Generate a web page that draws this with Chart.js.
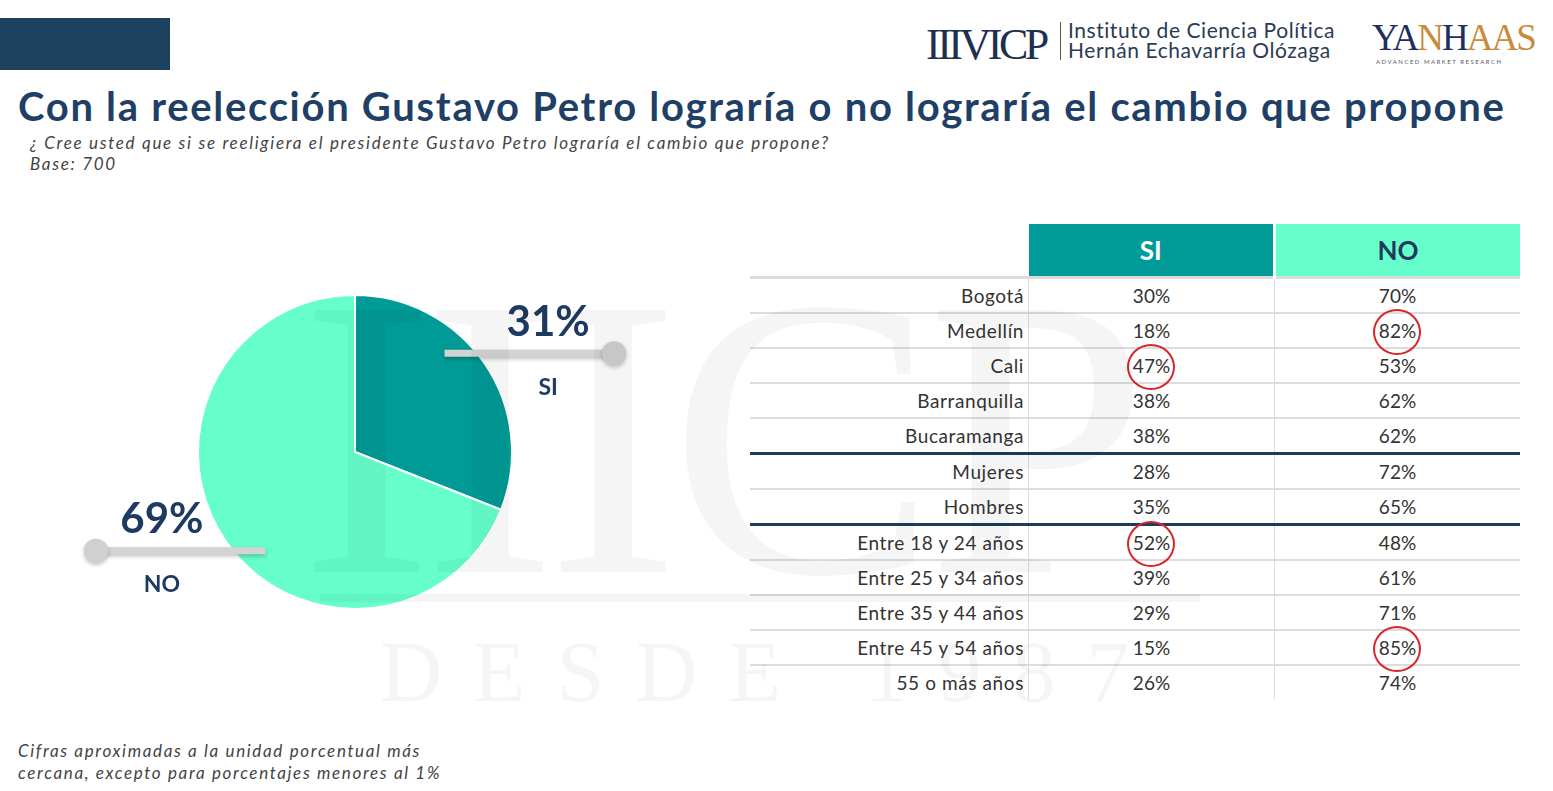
<!DOCTYPE html>
<html>
<head>
<meta charset="utf-8">
<script src="https://cdn.jsdelivr.net/npm/chart.js@4"></script>
<style>
  body { margin: 0; width: 1553px; height: 791px; background: #fff; position: relative; overflow: hidden; font-family: Lato, sans-serif; }
  .abs { position: absolute; }
  #bar { left: 0; top: 18px; width: 170px; height: 52px; background: #1D4260; }
  #title { left: 18px; top: 82px; font-size: 40px; font-weight: 700; color: #1F3F66; white-space: nowrap; letter-spacing: 1.7px; }
  #sub { left: 30px; top: 132px; font-size: 17px; font-style: italic; color: #444; line-height: 21px; letter-spacing: 1.7px; white-space: nowrap; }
  #foot { left: 18px; top: 740px; font-size: 17px; font-style: italic; color: #444; line-height: 22px; letter-spacing: 1.65px; white-space: nowrap; }
  #icp { left: 926px; top: 19px; font-family: "Liberation Serif", serif; font-size: 44px; color: #1E2F4F; letter-spacing: -3.5px; }
  #icpsep { left: 1060px; top: 22px; width: 1px; height: 38px; background: #555; }
  #icptxt { left: 1068px; top: 20px; font-size: 21px; line-height: 20px; color: #2B3A55; letter-spacing: 0.55px; white-space: nowrap; }
  #yan { left: 1372px; top: 16px; font-family: "Liberation Serif", serif; font-size: 37px; color: #1E2F5F; letter-spacing: -2px; }
  #yan span { color: #C98A3A; }
  #yansub { left: 1376px; top: 58px; font-size: 6px; letter-spacing: 1.5px; color: #556; white-space: nowrap; }
  #wm1 { left: 300px; top: 238px; font-family: "Liberation Serif", serif; font-size: 400px; line-height: 400px; color: rgba(0,0,0,0.04); letter-spacing: -10px; pointer-events: none; z-index: 5; }
  #wm2 { left: 380px; top: 622px; font-family: "Liberation Serif", serif; font-size: 86px; color: rgba(0,0,0,0.04); letter-spacing: 31px; pointer-events: none; z-index: 5; }
  #wmbar { left: 320px; top: 594px; width: 880px; height: 8px; background: rgba(0,0,0,0.04); z-index: 5; }
  #pieWrap { left: 0; top: 177px; width: 710px; height: 550px; }
  table { position: absolute; left: 750px; top: 224px; width: 770px; border-collapse: collapse; font-size: 19px; color: #333; }
  th { height: 52px; font-size: 26px; font-weight: 700; padding: 0; }
  th.si { background: #009B98; color: #fff; border-right: 3px solid #fff; }
  th.no { background: #66FFCC; color: #1F3A5F; }
  td { height: 33px; padding: 0; text-align: center; border-top: 2px solid #DCDCDC; }
  td.lab { text-align: right; padding-right: 4px; width: 274px; letter-spacing: 0.6px; }
  td.v { border-left: 1px solid #DDD; width: 245px; }
  tr.first td { border-top: 3px solid #DCDCDC; }
  tr.grp td { border-top: 3px solid #1F3A5F; }
  .mark { position: relative; display: inline-block; }
  .mark::after { content: ""; position: absolute; left: -6px; top: -10px; width: 44px; height: 42px; border: 2.5px solid #D9252A; border-radius: 50%; }
</style>
</head>
<body>
<div id="bar" class="abs"></div>
<div id="icp" class="abs">IIIVICP</div>
<div id="icpsep" class="abs"></div>
<div id="icptxt" class="abs">Instituto de Ciencia Política<br>Hernán Echavarría Olózaga</div>
<div id="yan" class="abs">YA<span>N</span>H<span>AAS</span></div>
<div id="yansub" class="abs">ADVANCED MARKET RESEARCH</div>
<div id="title" class="abs">Con la reelección Gustavo Petro lograría o no lograría el cambio que propone</div>
<div id="sub" class="abs">¿ Cree usted que si se reeligiera el presidente Gustavo Petro lograría el cambio que propone?<br>Base: 700</div>
<div id="pieWrap" class="abs"><canvas id="pie" width="710" height="550"></canvas></div>
<table id="tbl"></table>
<div id="wm1" class="abs">IIICP</div>
<div id="wmbar" class="abs"></div>
<div id="wm2" class="abs">DESDE 1987</div>
<div id="foot" class="abs">Cifras aproximadas a la unidad porcentual más<br>cercana, excepto para porcentajes menores al 1%</div>
<script>
// total
const pieLabels = ['SI', 'NO'];
const pieValues = [31, 69];
const pieColors = ['#009B96', '#66FFCC'];

// breakdown table
const rowLabels = ['Bogotá', 'Medellín', 'Cali', 'Barranquilla', 'Bucaramanga', 'Mujeres', 'Hombres',
  'Entre 18 y 24 años', 'Entre 25 y 34 años', 'Entre 35 y 44 años', 'Entre 45 y 54 años', '55 o más años'];
const siValues = [30, 18, 47, 38, 38, 28, 35, 52, 39, 29, 15, 26];
const noValues = [70, 82, 53, 62, 62, 72, 65, 48, 61, 71, 85, 74];
const groupStarts = ['Mujeres', 'Entre 18 y 24 años'];
const circled = [['Medellín', 'NO'], ['Cali', 'SI'], ['Entre 18 y 24 años', 'SI'], ['Entre 45 y 54 años', 'NO']];

// build table
const tbl = document.getElementById('tbl');
let html = '<tr><th></th><th class="si">SI</th><th class="no">NO</th></tr>';
rowLabels.forEach((lab, i) => {
  let cls = i === 0 ? 'first' : (groupStarts.includes(lab) ? 'grp' : '');
  const cell = (v, col) => {
    const hit = circled.some(c => c[0] === lab && c[1] === col);
    return hit ? '<span class="mark">' + v + '%</span>' : v + '%';
  };
  html += '<tr class="' + cls + '"><td class="lab">' + lab + '</td><td class="v">' + cell(siValues[i], 'SI') +
    '</td><td class="v">' + cell(noValues[i], 'NO') + '</td></tr>';
});
tbl.innerHTML = html;

// leader lines + labels next to each slice
const leaders = {
  id: 'leaders',
  afterDatasetsDraw(chart) {
    const ctx = chart.ctx;
    const arcs = chart.getDatasetMeta(0).data;
    arcs.forEach((arc, i) => {
      const { x, y, outerRadius: r, startAngle, endAngle } = arc.getProps(['x', 'y', 'outerRadius', 'startAngle', 'endAngle']);
      const mid = (startAngle + endAngle) / 2 + Math.PI / 2; // angle from 12 o'clock
      const side = Math.sin(mid) >= 0 ? 1 : -1;
      const ly = y - Math.cos(mid) * 1.12 * r;
      const x0 = x + side * 0.57 * r;
      const x1 = x + side * 1.65 * r;
      ctx.save();
      ctx.shadowColor = 'rgba(0,0,0,0.25)';
      ctx.shadowBlur = 4;
      ctx.shadowOffsetY = 2;
      ctx.strokeStyle = '#D3D3D3';
      ctx.lineWidth = 7;
      ctx.beginPath();
      ctx.moveTo(x0, ly);
      ctx.lineTo(x1, ly);
      ctx.stroke();
      ctx.fillStyle = '#D0D0D0';
      ctx.beginPath();
      ctx.arc(x1, ly, 12, 0, Math.PI * 2);
      ctx.fill();
      ctx.restore();

      const tx = x + side * 1.23 * r;
      ctx.save();
      ctx.fillStyle = '#1F3A60';
      ctx.textAlign = 'center';
      ctx.textBaseline = 'middle';
      ctx.font = 'bold 42px Lato';
      ctx.fillText(pieValues[i] + '%', tx, ly - 31);
      ctx.font = 'bold 23px Lato';
      ctx.fillText(pieLabels[i], tx, ly + 34);
      ctx.restore();
    });
  }
};

new Chart(document.getElementById('pie'), {
  type: 'pie',
  data: {
    labels: pieLabels,
    datasets: [{
      data: pieValues,
      backgroundColor: pieColors,
      borderColor: '#fff',
      borderWidth: 2
    }]
  },
  options: {
    responsive: false,
    animation: false,
    radius: 157,
    plugins: { legend: { display: false }, tooltip: { enabled: false } }
  },
  plugins: [leaders]
});
</script>
</body>
</html>
